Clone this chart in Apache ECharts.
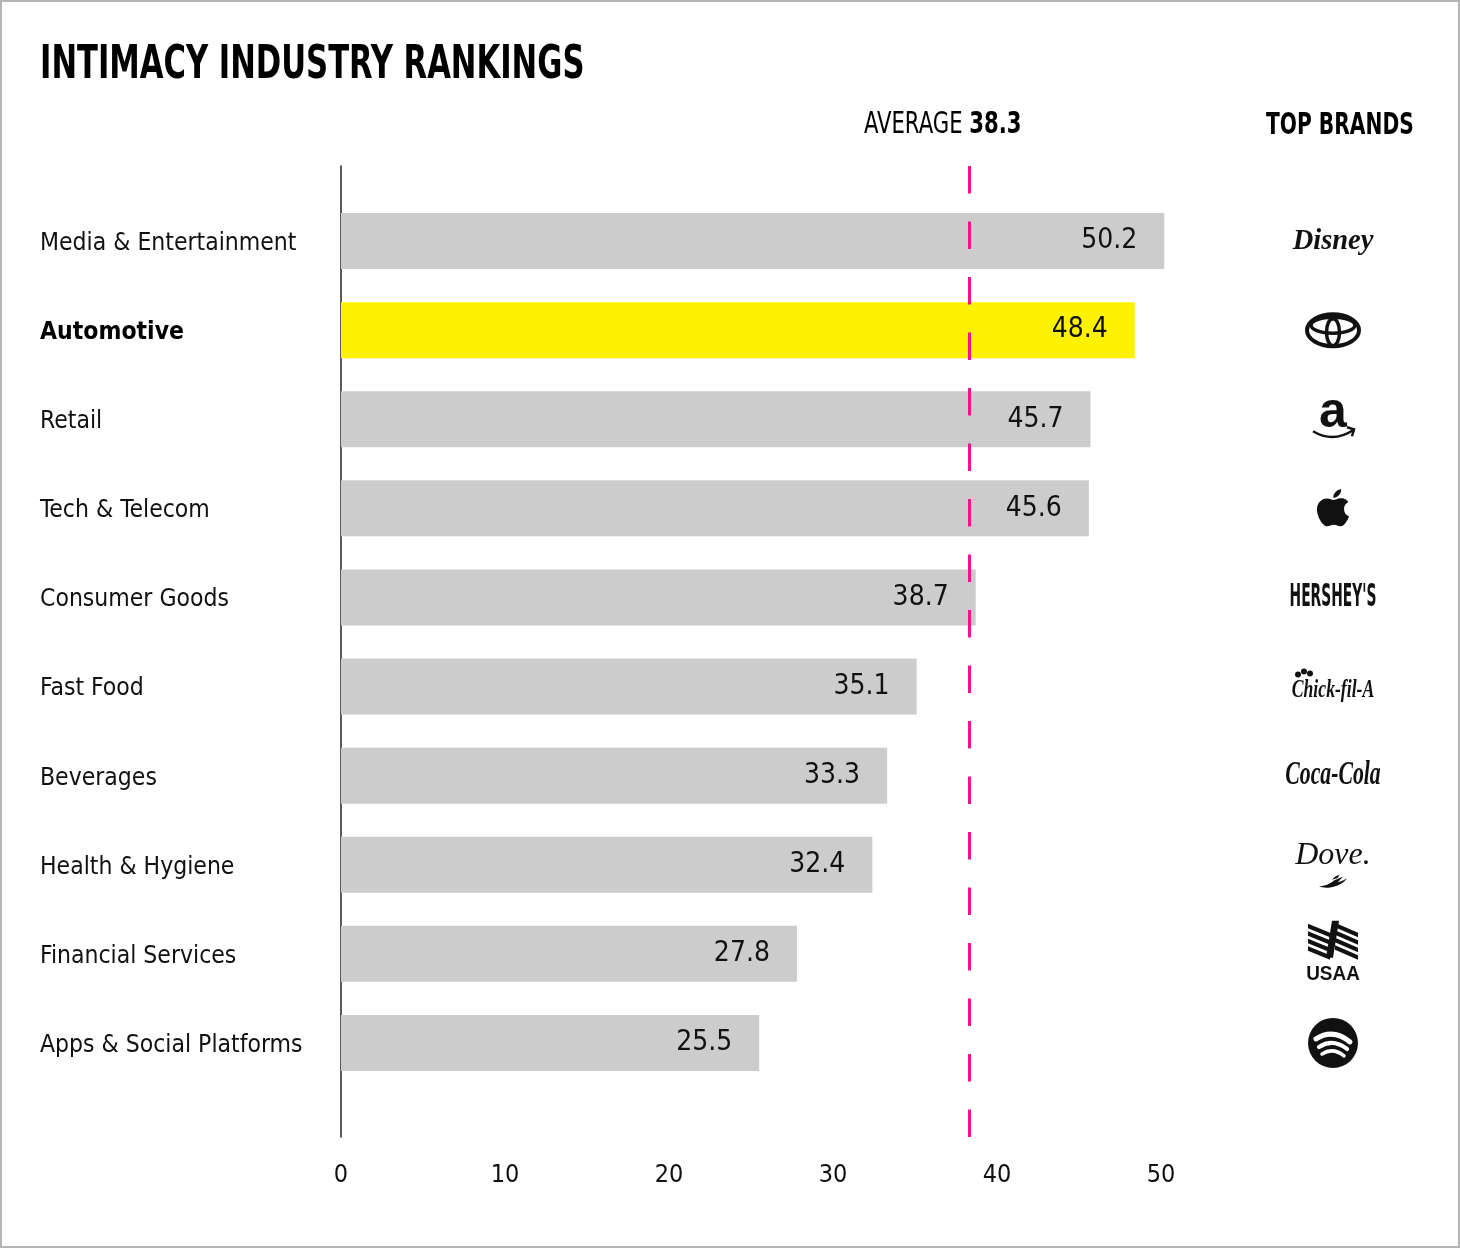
<!DOCTYPE html>
<html>
<head>
<meta charset="utf-8">
<script src="https://cdn.jsdelivr.net/npm/echarts@6/dist/echarts.min.js"></script>
<style>
  html, body { margin: 0; padding: 0; background: #fff; }
  #wrap { position: relative; width: 1460px; height: 1248px; }
  #chart { position: absolute; left: 0; top: 0; width: 1460px; height: 1248px; }
  #frame { position: absolute; left: 0; top: 0; width: 1460px; height: 1248px; box-sizing: border-box; border: 2px solid #b4b4b4; pointer-events: none; }
</style>
</head>
<body>
<div id="wrap"><div id="chart"></div><div id="frame"></div></div>
<script>
// ---- data ----
const categories = ['Media & Entertainment', 'Automotive', 'Retail', 'Tech & Telecom', 'Consumer Goods', 'Fast Food', 'Beverages', 'Health & Hygiene', 'Financial Services', 'Apps & Social Platforms'];
const scores = [50.2, 48.4, 45.7, 45.6, 38.7, 35.1, 33.3, 32.4, 27.8, 25.5];
const brands = ['Disney', 'Toyota', 'Amazon', 'Apple', "Hershey's", 'Chick-fil-A', 'Coca-Cola', 'Dove', 'USAA', 'Spotify'];
const highlighted = ['Automotive'];
const averageScore = [38.3];
const xTicks = [0, 10, 20, 30, 40, 50];

// ---- style ----
const FONT = '"Liberation Sans Narrow", "DejaVu Sans Condensed", "Roboto Condensed", "Liberation Sans", sans-serif';
const SERIF = '"Liberation Serif", "DejaVu Serif", serif';
const PINK = '#f2148a';
const GRAY = '#cccccc';
const YELLOW = '#fff200';

const chart = echarts.init(document.getElementById('chart'), null, { renderer: 'canvas' });

const APPLE_PATH = 'M16.4 12.6c0-2.4 2-3.6 2.1-3.6-1.1-1.7-2.9-1.9-3.5-1.9-1.5-.2-2.9.9-3.7.9-.8 0-1.9-.9-3.2-.8-1.6 0-3.1 1-4 2.4-1.7 3-.4 7.4 1.2 9.8.8 1.2 1.8 2.5 3 2.4 1.2 0 1.7-.8 3.1-.8 1.5 0 1.9.8 3.2.8 1.3 0 2.1-1.2 2.9-2.4.9-1.4 1.3-2.7 1.3-2.8 0 0-2.5-1-2.4-4zM14 5.4c.7-.8 1.1-1.9 1-3-1 0-2.1.7-2.8 1.5-.6.7-1.2 1.8-1 2.9 1.1.1 2.1-.6 2.8-1.4z';
const DOVE_PATH = 'M0 14 C6 14 12 11 16 7 L26 2 L20 9 C24 8 28 6 30 4 C27 10 20 14 13 15 C9 16 4 16 0 14 Z M14 6 C16 3 19 1 22 0 L20 4 Z';

function txt(text, o) {
  return { type: 'text', x: o.x || 0, y: o.y || 0, scaleX: o.scaleX || 1,
    style: { text: text, fontSize: o.size, fontFamily: o.family || FONT, fontWeight: o.weight || 'normal',
      fontStyle: o.style || 'normal', fill: '#111', align: 'center', verticalAlign: 'middle' } };
}

function logo(name) {
  const stroke = { stroke: '#111', fill: 'none', lineWidth: 3.5 };
  switch (name) {
    case 'Disney':
      return [txt('Disney', { size: 30, family: SERIF, style: 'italic', weight: 'bold', scaleX: 0.95 })];
    case 'Toyota':
      return [
        { type: 'ellipse', shape: { cx: 0, cy: 0, rx: 26, ry: 16 }, style: { stroke: '#111', fill: 'none', lineWidth: 4 } },
        { type: 'ellipse', shape: { cx: 0, cy: -5, rx: 22, ry: 8 }, style: stroke },
        { type: 'ellipse', shape: { cx: 0, cy: 2, rx: 6.5, ry: 13.5 }, style: stroke }
      ];
    case 'Amazon':
      return [
        txt('a', { size: 50, weight: 'bold', y: -6, family: '"Liberation Sans", sans-serif' }),
        { type: 'bezierCurve', shape: { x1: -20, y1: 12, cpx1: 0, cpy1: 24, x2: 20, y2: 11 }, style: { stroke: '#111', fill: 'none', lineWidth: 2.5 } },
        { type: 'polyline', shape: { points: [[14, 8], [21, 10], [19, 17]] }, style: { stroke: '#111', fill: 'none', lineWidth: 2.5 } }
      ];
    case 'Apple':
      return [{ type: 'path', shape: { pathData: APPLE_PATH, x: -16, y: -19, width: 32, height: 37, layout: 'cover' }, style: { fill: '#111' } }];
    case "Hershey's":
      return [txt("HERSHEY'S", { size: 32, weight: 'bold', scaleX: 0.48 })];
    case 'Chick-fil-A':
      return [
        txt('Chick-fil-A', { size: 26, family: SERIF, style: 'italic', weight: 'bold', scaleX: 0.68, y: 4 }),
        { type: 'circle', shape: { cx: -35, cy: -12, r: 3 }, style: { fill: '#111' } },
        { type: 'circle', shape: { cx: -29, cy: -15, r: 3 }, style: { fill: '#111' } },
        { type: 'circle', shape: { cx: -23, cy: -13, r: 3 }, style: { fill: '#111' } }
      ];
    case 'Coca-Cola':
      return [txt('Coca-Cola', { size: 34, family: SERIF, style: 'italic', weight: 'bold', scaleX: 0.64 })];
    case 'Dove':
      return [
        txt('Dove.', { size: 32, family: SERIF, style: 'italic', y: -9 }),
        { type: 'path', shape: { pathData: DOVE_PATH, x: -14, y: 10, width: 28, height: 13, layout: 'cover' }, style: { fill: '#111' } }
      ];
    case 'USAA': {
      const els = [];
      for (let k = 0; k < 4; k++) {
        const y0 = -30 + k * 7.5;
        els.push({ type: 'polygon', shape: { points: [[-25, y0], [-3, y0 + 9], [-3, y0 + 13.5], [-25, y0 + 4.5]] }, style: { fill: '#111' } });
        els.push({ type: 'polygon', shape: { points: [[2, y0 - 1], [25, y0 + 9], [25, y0 + 13.5], [2, y0 + 3.5]] }, style: { fill: '#111' } });
      }
      els.push({ type: 'polygon', shape: { points: [[-7, 4], [-1, -33], [6, -33], [0, 4]] }, style: { fill: '#111' } });
      els.push(txt('USAA', { size: 21, weight: 'bold', y: 20, scaleX: 0.9, family: '"Liberation Sans", sans-serif' }));
      return els;
    }
    case 'Spotify':
      return [
        { type: 'circle', shape: { cx: 0, cy: 0, r: 25 }, style: { fill: '#111' } },
        { type: 'bezierCurve', shape: { x1: -17, y1: -4, cpx1: 0, cpy1: -15, x2: 17, y2: -1 }, style: { stroke: '#fff', fill: 'none', lineWidth: 5, lineCap: 'round' } },
        { type: 'bezierCurve', shape: { x1: -14, y1: 4, cpx1: 0, cpy1: -5, x2: 14, y2: 6 }, style: { stroke: '#fff', fill: 'none', lineWidth: 4.2, lineCap: 'round' } },
        { type: 'bezierCurve', shape: { x1: -11, y1: 11, cpx1: 0, cpy1: 4, x2: 11, y2: 13 }, style: { stroke: '#fff', fill: 'none', lineWidth: 3.5, lineCap: 'round' } }
      ];
  }
  return [];
}

const option = {
  animation: false,
  backgroundColor: '#ffffff',
  textStyle: { fontFamily: FONT },
  graphic: [
    { type: 'text', x: 40, y: 66, scaleX: 0.74,
      style: { text: 'INTIMACY INDUSTRY RANKINGS', fontFamily: FONT, fontWeight: 'bold', fontSize: 46, fill: '#000', align: 'left', verticalAlign: 'middle' } },
    { type: 'text', x: 864, y: 125, scaleX: 0.76,
      style: { text: 'AVERAGE {b|' + averageScore[0].toFixed(1) + '}', fontFamily: FONT, fontSize: 31, fill: '#000', align: 'left', verticalAlign: 'middle',
        rich: { b: { fontFamily: FONT, fontWeight: 'bold', fontSize: 31, fill: '#000' } } } },
    { type: 'text', x: 1266, y: 126, scaleX: 0.725,
      style: { text: 'TOP BRANDS', fontFamily: FONT, fontWeight: 'bold', fontSize: 31, fill: '#000', align: 'left', verticalAlign: 'middle' } }
  ],
  grid: [
    { left: 341, width: 820, top: 166, bottom: 111, containLabel: false },
    { left: 341, width: 820, top: 196.5, bottom: 160.5, containLabel: false }
  ],
  xAxis: [
    { type: 'value', gridIndex: 0, min: xTicks[0], max: xTicks[xTicks.length - 1], interval: 10,
      splitLine: { show: false }, axisLine: { show: false }, axisTick: { show: false },
      axisLabel: { fontFamily: FONT, fontSize: 25, color: '#111', margin: 26 } },
    { type: 'value', gridIndex: 1, min: xTicks[0], max: xTicks[xTicks.length - 1], interval: 10, show: false }
  ],
  yAxis: [
    { type: 'value', gridIndex: 0, min: 0, max: 1, axisLabel: { show: false }, axisTick: { show: false },
      splitLine: { show: false }, axisLine: { show: true, lineStyle: { color: '#222', width: 1.5 } } },
    { type: 'category', gridIndex: 1, data: categories, inverse: true,
      axisLine: { show: false }, axisTick: { show: false },
      axisLabel: {
        margin: 301, align: 'left', fontFamily: FONT, fontSize: 24.5, color: '#111', padding: [5, 0, 0, 0],
        formatter: v => highlighted.indexOf(v) >= 0 ? '{b|' + v + '}' : v,
        rich: { b: { fontFamily: FONT, fontSize: 24.5, fontWeight: 'bold', color: '#000' } }
      } }
  ],
  series: [
    {
      type: 'scatter', xAxisIndex: 0, yAxisIndex: 0, data: [[0, 0]], symbolSize: 0, silent: true,
      markLine: {
        silent: true, symbol: ['none', 'none'], label: { show: false },
        lineStyle: { color: PINK, width: 3, type: [27.5, 28] },
        data: [{ xAxis: averageScore[0] }]
      },
      z: 5
    },
    {
      type: 'bar', xAxisIndex: 1, yAxisIndex: 1, barWidth: 56, clip: false,
      data: scores.map((v, i) => ({ value: v, itemStyle: { color: highlighted.indexOf(categories[i]) >= 0 ? YELLOW : GRAY } })),
      label: { show: true, position: 'insideRight', distance: 27, fontFamily: FONT, fontSize: 28, color: '#111',
        padding: [4, 0, 0, 0], formatter: p => p.value.toFixed(1) },
      z: 2
    },
    {
      type: 'custom', xAxisIndex: 1, yAxisIndex: 1, clip: false, silent: true,
      data: brands.map((b, i) => [0, categories[i]]),
      encode: { x: 0, y: 1 },
      renderItem: (params, api) => {
        const pt = api.coord([0, api.value(1)]);
        const cs = params.coordSys;
        return { type: 'group', x: cs.x + cs.width + 172, y: pt[1], children: logo(brands[params.dataIndex]) };
      }
    }
  ]
};
chart.setOption(option);
</script>
</body>
</html>
